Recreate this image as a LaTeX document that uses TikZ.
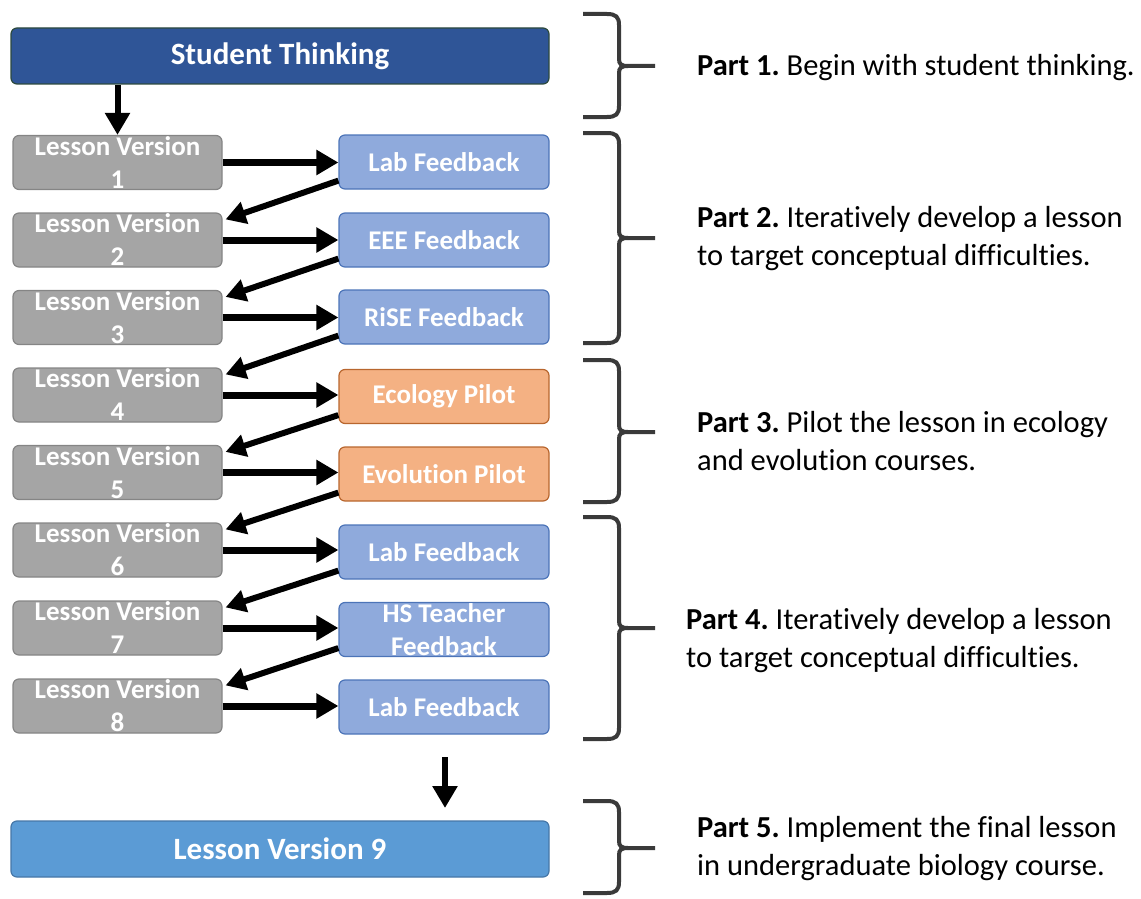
\documentclass[tikz,border=0pt]{standalone}
\usepackage{fontspec}
\setmainfont{Carlito}[Ligatures=NoCommon]
\usetikzlibrary{arrows.meta}
\frenchspacing

\definecolor{stfill}{HTML}{2F5597}
\definecolor{stdraw}{HTML}{2C4A3E}
\definecolor{lvgray}{HTML}{A5A5A5}
\definecolor{lvgrayd}{HTML}{858585}
\definecolor{fbblue}{HTML}{8FAADC}
\definecolor{fbblued}{HTML}{4C74B8}
\definecolor{pilotor}{HTML}{F4B183}
\definecolor{pilotord}{HTML}{B8662E}
\definecolor{finalblue}{HTML}{5B9BD5}
\definecolor{finalblued}{HTML}{4677A8}
\definecolor{bracegray}{HTML}{3A3A3A}

\tikzset{
  box/.style={rounded corners=6pt, line width=1.2pt, text=white, align=center,
    inner sep=0pt, font=\fontsize{27}{33}\selectfont\bfseries},
  lvbox/.style={box, fill=lvgray, draw=lvgrayd, minimum width=209pt, minimum height=54pt},
  fbbox/.style={box, fill=fbblue, draw=fbblued, minimum width=210pt, minimum height=54pt},
  pilotbox/.style={fbbox, fill=pilotor, draw=pilotord},
  widebox/.style={box, minimum width=538pt, minimum height=56pt,
    font=\fontsize{31}{36}\selectfont\bfseries},
  flow/.style={line width=7pt, -{Triangle[length=22pt,width=24pt]}},
  back/.style={line width=6pt, -{Triangle[length=20pt,width=22pt]}},
  bracestyle/.style={line width=4pt, draw=bracegray},
  parttext/.style={anchor=west, align=left, inner sep=0pt,
    font=\fontsize{30.5}{38}\selectfont}
}

% right curly brace: top y, tip y, bottom y
\newcommand\partbrace[3]{%
  \draw[bracestyle] (583,#1) -- (607,#1) .. controls (616,#1) and (619,#1+3) .. (619,#1+11)
    -- (619,#2-7) .. controls (619,#2-2) and (621,#2) .. (628,#2) -- (655,#2);
  \draw[bracestyle] (583,#3) -- (607,#3) .. controls (616,#3) and (619,#3-3) .. (619,#3-11)
    -- (619,#2+7) .. controls (619,#2+2) and (621,#2) .. (628,#2);
}

\begin{document}
\begin{tikzpicture}[x=1pt,y=-1pt]
\useasboundingbox (0,0) rectangle (1141,899);

% top and bottom wide boxes
\node[widebox, fill=stfill, draw=stdraw] (st) at (280,56) {Student Thinking};
\node[widebox, fill=finalblue, draw=finalblued] (lv9) at (280,849) {Lesson Version 9};

% lesson versions
\node[lvbox] (lv1) at (117.5,162.5) {Lesson Version\\1};
\node[lvbox] (lv2) at (117.5,240) {Lesson Version\\2};
\node[lvbox] (lv3) at (117.5,317.5) {Lesson Version\\3};
\node[lvbox] (lv4) at (117.5,395) {Lesson Version\\4};
\node[lvbox] (lv5) at (117.5,472.5) {Lesson Version\\5};
\node[lvbox] (lv6) at (117.5,550) {Lesson Version\\6};
\node[lvbox] (lv7) at (117.5,628) {Lesson Version\\7};
\node[lvbox] (lv8) at (117.5,706) {Lesson Version\\8};

% feedback and pilots
\node[fbbox] (fb1) at (444,162) {Lab Feedback};
\node[fbbox] (fb2) at (444,240) {EEE Feedback};
\node[fbbox] (fb3) at (444,317) {RiSE Feedback};
\node[pilotbox] (fb4) at (444,396.5) {Ecology Pilot};
\node[pilotbox] (fb5) at (444,474) {Evolution Pilot};
\node[fbbox] (fb6) at (444,552) {Lab Feedback};
\node[fbbox] (fb7) at (444,629.5) {HS Teacher\\Feedback};
\node[fbbox] (fb8) at (444,707) {Lab Feedback};

% vertical arrows
\draw[flow, line width=6pt] (lv1.north |- st.south) -- (lv1.north);
\coordinate (dropA) at (445,757);
\coordinate (dropB) at (445,808);
\draw[flow, line width=6pt] (dropA) -- (dropB);

% lesson -> feedback
\foreach \i in {1,...,8}{
  \draw[flow] (lv\i.east) -- (lv\i.east -| fb\i.west);
}
% feedback -> next lesson
\foreach \i [evaluate=\i as \j using int(\i+1)] in {1,...,7}{
  \draw[back] ([yshift=9pt]fb\i.south west) -- ([xshift=3pt,yshift=-7pt]lv\j.north east);
}

% braces
\partbrace{14}{66}{117}
\partbrace{133}{238}{343}
\partbrace{360}{432}{502}
\partbrace{517}{628}{739}
\partbrace{801}{848}{893}

% descriptions
\node[parttext] (p1) at (697,68) {\textbf{Part 1.} Begin with student thinking.};
\node[parttext] (p2) at (697,239) {\textbf{Part 2.} Iteratively develop a lesson\\to target conceptual difficulties.};
\node[parttext] (p3) at (697,441) {\textbf{Part 3.} Pilot the lesson in ecology\\and evolution courses.};
\node[parttext] (p4) at (686,641) {\textbf{Part 4.} Iteratively develop a lesson\\to target conceptual difficulties.};
\node[parttext] (p5) at (697,849) {\textbf{Part 5.} Implement the final lesson\\in undergraduate biology course.};
\end{tikzpicture}
\end{document}
